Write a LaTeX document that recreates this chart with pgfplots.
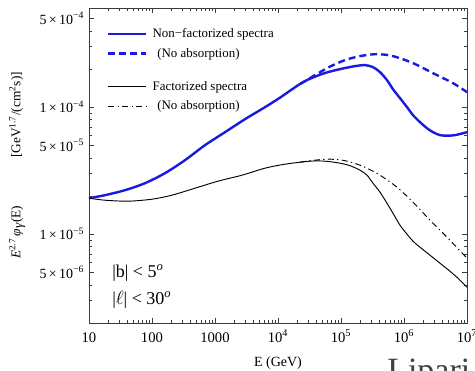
\documentclass[border=0pt]{standalone}
\usepackage{fontspec}
\setmainfont{Liberation Serif}
\usepackage{pgfplots}
\pgfplotsset{compat=1.18}
\definecolor{myblue}{RGB}{25,25,225}
\definecolor{frame}{RGB}{60,60,60}
\begin{document}
\begin{tikzpicture}
\useasboundingbox (-66.75pt,-36pt) rectangle (289.5pt,242.25pt);
\begin{axis}[
  at={(0,0)}, anchor=south west,
  scale only axis, width=283.5pt, height=236.25pt,
  xmode=log, ymode=log,
  xmin=10, xmax=1e7, ymin=2.0e-6, ymax=6.03e-4,
  axis line style={frame}, tick style={frame},
  major tick length=3.75pt, minor tick length=2.2pt,
  xtick={10,100,1000,1e4,1e5,1e6,1e7},
  xticklabels={10,100,1000,10\textsuperscript{4},10\textsuperscript{5},10\textsuperscript{6},10\textsuperscript{7}},
  minor xtick={20,30,40,50,60,70,80,90,200,300,400,500,600,700,800,900,2000,3000,4000,5000,6000,7000,8000,9000,2e4,3e4,4e4,5e4,6e4,7e4,8e4,9e4,2e5,3e5,4e5,5e5,6e5,7e5,8e5,9e5,2e6,3e6,4e6,5e6,6e6,7e6,8e6,9e6},
  ytick={5e-6,1e-5,5e-5,1e-4,5e-4},
  yticklabels={5\,×\,10\textsuperscript{−6},1\,×\,10\textsuperscript{−5},5\,×\,10\textsuperscript{−5},1\,×\,10\textsuperscript{−4},5\,×\,10\textsuperscript{−4}},
  minor ytick={2e-6,3e-6,4e-6,6e-6,7e-6,8e-6,9e-6,2e-5,3e-5,4e-5,6e-5,7e-5,8e-5,9e-5,2e-4,3e-4,4e-4,6e-4},
  yticklabel style={font=\fontsize{10.5}{12}\selectfont, black},
  xticklabel style={font=\fontsize{11}{12}\selectfont, black, anchor=base, yshift=-14.25pt},
  xlabel={E (GeV)},
  xlabel style={at={(axis description cs:0.5,-0.1365)}, anchor=base, font=\fontsize{10.5}{12}\selectfont},
  ylabel={\textit{E}\textsuperscript{2.7}\,\textit{φ}$_{\textit{γ}}$(E)\hspace{36pt}[GeV\textsuperscript{1.7}/(cm\textsuperscript{2}s)]},
  ylabel style={at={(axis description cs:-0.19,0.5)}, anchor=center, font=\fontsize{10}{12}\selectfont},
  legend cell align=left,
  legend image code/.code={\draw[#1] (0pt,0pt) -- (28.5pt,0pt);},
  legend style={draw=none, fill=none, at={(axis description cs:0.0476,0.9356)}, anchor=north west,
    inner sep=0pt, font=\fontsize{9.7}{11}\selectfont, row sep=6.3pt, column sep=3.75pt, nodes={inner sep=0pt}},
]
\addplot[myblue, line width=1.8pt, smooth] coordinates {
(10,1.921e-5) (17.9,2.028e-5) (37.3,2.221e-5) (77.4,2.521e-5) (160.7,3.022e-5)
(334,3.826e-5) (694,5.021e-5) (1442,6.355e-5) (2994,8.04e-5) (6223,1.0e-4)
(10760,1.188e-4) (24950,1.573e-4) (51800,1.835e-4) (96400,1.991e-4) (166700,2.103e-4)
(240400,2.142e-4) (322100,2.065e-4) (416000,1.886e-4) (537000,1.632e-4) (668000,1.386e-4)
(864500,1.177e-4) (1117000,1.0e-4) (1390000,8.65e-5) (1795000,7.62e-5) (2317000,6.83e-5)
(2884000,6.355e-5) (3724000,6.02e-5) (4820000,5.965e-5) (6460000,6.02e-5) (10000000,6.355e-5)};
\addlegendentry{Non−factorized spectra}
\addplot[myblue, line width=1.8pt, dash pattern=on 5.25pt off 3pt, smooth] coordinates {
(22340,1.517e-4) (38640,1.786e-4) (66800,2.084e-4) (115700,2.345e-4) (200400,2.521e-4)
(372600,2.614e-4) (668000,2.521e-4) (1390000,2.221e-4) (2884000,1.852e-4)
(6000000,1.545e-4) (10000000,1.312e-4)};
\addlegendentry{\hspace{3.5pt}(No absorption)}
\addlegendimage{empty legend}
\addlegendentry{\rule{0pt}{2.6pt}}
\addplot[black, line width=0.7pt, smooth] coordinates {
(10,1.921e-5) (17.9,1.852e-5) (41.6,1.819e-5) (100,1.886e-5) (207,2.028e-5)
(482,2.302e-5) (1117,2.615e-5) (2683,2.914e-5) (6223,3.309e-5) (12910,3.557e-5)
(32210,3.757e-5) (55720,3.757e-5) (96400,3.623e-5) (139000,3.462e-5) (200400,3.190e-5)
(258800,2.914e-5) (322100,2.521e-5) (416000,2.142e-5) (537000,1.754e-5) (668000,1.463e-5)
(864500,1.177e-5) (1117000,1.0e-5) (1390000,8.81e-6) (1795000,7.90e-6) (2588000,6.83e-6)
(3724000,5.91e-6) (5370000,5.11e-6) (7190000,4.50e-6) (10000000,3.826e-6)};
\addlegendentry{Factorized spectra}
\addplot[black, line width=0.7pt, dash pattern=on 4.5pt off 2.5pt on 1pt off 2.5pt, smooth] coordinates {
(22340,3.689e-5) (38640,3.826e-5) (66800,3.896e-5) (115700,3.791e-5) (200400,3.493e-5)
(288400,3.219e-5) (416000,2.914e-5) (774000,2.345e-5) (1390000,1.786e-5) (2588000,1.289e-5)
(4820000,9.47e-6) (10000000,6.47e-6)};
\addlegendentry{\hspace{3.5pt}(No absorption)}
\node[anchor=base west, inner sep=0pt, font=\fontsize{13.5}{15}\selectfont] at (axis description cs:0.0608,0.146) {|b| < 5\textsuperscript{\textit{o}}};
\node[anchor=base west, inner sep=0pt, font=\fontsize{13.5}{15}\selectfont] at (axis description cs:0.0608,0.060) {|$\ell$| < 30\textsuperscript{\textit{o}}};
\end{axis}
\node[anchor=base west, font=\fontsize{25.5}{28}\selectfont, text=black!75, inner sep=0pt] at (223.5pt,-44.25pt) {Lipari \&};
\end{tikzpicture}
\end{document}
